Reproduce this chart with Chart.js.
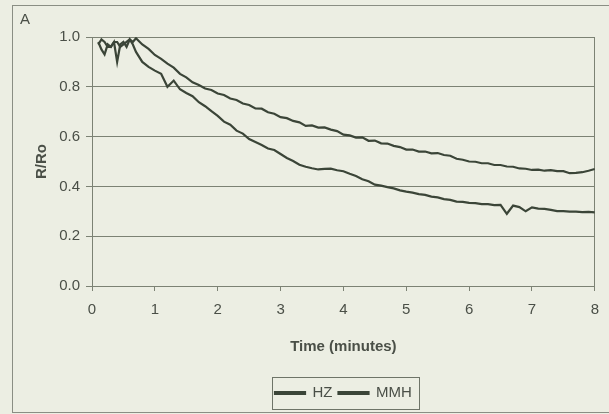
<!DOCTYPE html>
<html>
<head>
<meta charset="utf-8">
<script src="https://cdn.jsdelivr.net/npm/chart.js@4.4.1/dist/chart.umd.min.js"></script>
<style>
  html, body { margin: 0; padding: 0; background: #eceee3; overflow: hidden; }
  #wrap { position: relative; width: 609px; height: 414px; }
  #frame { position: absolute; left: 12px; top: 5px; width: 700px; height: 406px; border: 1px solid #8a8e84; }
  #myChart { position: absolute; left: 0; top: 0; }
</style>
</head>
<body>
<div id="wrap">
  <div id="frame"></div>
  <canvas id="myChart" width="609" height="414"></canvas>
</div>
<script>
// temps en minutes
const times = [0.1, 0.15, 0.2, 0.25, 0.3, 0.35, 0.4, 0.45, 0.5, 0.55, 0.6, 0.65, 0.7, 0.8, 0.9, 1.0,
  1.1, 1.2, 1.3, 1.4, 1.5, 1.6, 1.7, 1.8, 1.9, 2.0,
  2.1, 2.2, 2.3, 2.4, 2.5, 2.6, 2.7, 2.8, 2.9, 3.0,
  3.1, 3.2, 3.3, 3.4, 3.5, 3.6, 3.7, 3.8, 3.9, 4.0,
  4.1, 4.2, 4.3, 4.4, 4.5, 4.6, 4.7, 4.8, 4.9, 5.0,
  5.1, 5.2, 5.3, 5.4, 5.5, 5.6, 5.7, 5.8, 5.9, 6.0,
  6.1, 6.2, 6.3, 6.4, 6.5, 6.6, 6.7, 6.8, 6.9, 7.0,
  7.1, 7.2, 7.3, 7.4, 7.5, 7.6, 7.7, 7.8, 7.9, 8.0];

// courbe basse
const hzValues = [0.98, 0.95, 0.93, 0.97, 0.96, 0.98, 0.90, 0.97, 0.98, 0.96, 0.99, 0.97, 0.94, 0.90, 0.88, 0.865,
  0.852, 0.80, 0.825, 0.79, 0.775, 0.762, 0.738, 0.722, 0.702, 0.683,
  0.66, 0.648, 0.624, 0.612, 0.59, 0.578, 0.566, 0.552, 0.546, 0.53,
  0.514, 0.502, 0.487, 0.479, 0.473, 0.468, 0.47, 0.471, 0.465, 0.461,
  0.451, 0.442, 0.429, 0.421, 0.407, 0.403, 0.397, 0.392, 0.384, 0.379,
  0.375, 0.369, 0.366, 0.359, 0.356, 0.349, 0.346, 0.339, 0.338, 0.334,
  0.333, 0.329, 0.329, 0.325, 0.326, 0.29, 0.323, 0.317, 0.30, 0.316,
  0.311, 0.31, 0.306, 0.301, 0.301, 0.299, 0.299, 0.297, 0.298, 0.296];

// courbe haute
const mmhValues = [0.97, 0.99, 0.98, 0.96, 0.96, 0.98, 0.98, 0.96, 0.97, 0.98, 0.99, 0.98, 0.995, 0.97, 0.952, 0.928,
  0.912, 0.893, 0.877, 0.852, 0.838, 0.818, 0.807, 0.793, 0.787, 0.773,
  0.767, 0.753, 0.747, 0.733, 0.727, 0.713, 0.712, 0.698, 0.692, 0.678,
  0.674, 0.663, 0.657, 0.643, 0.645, 0.636, 0.637, 0.628, 0.622, 0.608,
  0.605, 0.596, 0.597, 0.583, 0.584, 0.573, 0.572, 0.563, 0.558, 0.548,
  0.548, 0.54, 0.54, 0.533, 0.534, 0.526, 0.523, 0.511, 0.507, 0.5,
  0.499, 0.493, 0.493, 0.486, 0.486, 0.48, 0.479, 0.472, 0.471, 0.466,
  0.467, 0.463, 0.465, 0.461, 0.461, 0.453, 0.454, 0.457, 0.463, 0.47];

const seriesLabels = ['HZ', 'MMH'];
const xTicks = [0, 1, 2, 3, 4, 5, 6, 7, 8];
const yTicks = [0.0, 0.2, 0.4, 0.6, 0.8, 1.0];

const lineColor = '#3b4538';
const gridColor = '#7c8274';
const textColor = '#4a4f47';
const fontFamily = '"Liberation Sans", Arial, sans-serif';

function toPoints(values) {
    return values.map((v, i) => ({x: times[i], y: v}));
}

// cadre autour de la légende
const legendFrame = {
    id: 'legendFrame',
    afterDraw(chart) {
        const boxes = chart.legend.legendHitBoxes;
        if (!boxes || !boxes.length) return;
        const first = boxes[0];
        const last = boxes[boxes.length - 1];
        const ctx = chart.ctx;
        const x = first.left - 3;
        const y = first.top + first.height / 2 - 16;
        const w = last.left + last.width - first.left + 10;
        ctx.save();
        ctx.strokeStyle = '#6e7468';
        ctx.lineWidth = 1;
        ctx.strokeRect(Math.round(x) + 0.5, Math.round(y) + 0.5, Math.round(w), 32);
        ctx.restore();
    }
};

const chart = new Chart(
    document.getElementById('myChart'),
    {
        type: 'line',
        data: {
            datasets: [
                {
                    label: seriesLabels[0],
                    data: toPoints(hzValues),
                    borderColor: lineColor,
                    backgroundColor: lineColor,
                    borderWidth: 2.2
                },
                {
                    label: seriesLabels[1],
                    data: toPoints(mmhValues),
                    borderColor: lineColor,
                    backgroundColor: lineColor,
                    borderWidth: 2.2
                }
            ]
        },
        options: {
            responsive: false,
            animation: false,
            devicePixelRatio: 1,
            layout: {
                padding: {left: 20, right: 7, top: 0, bottom: 3.5}
            },
            elements: {
                point: { pointStyle: false, radius: 0 },
                line: { tension: 0 }
            },
            plugins: {
                title: {
                    display: true,
                    text: 'A',
                    align: 'start',
                    color: textColor,
                    font: { size: 15, family: fontFamily, weight: 'normal' },
                    padding: { top: 11, bottom: 8 }
                },
                legend: {
                    position: 'bottom',
                    fullSize: false,
                    labels: {
                        boxWidth: 30,
                        boxHeight: 2,
                        padding: 6,
                        color: textColor,
                        font: { size: 15, family: fontFamily }
                    }
                },
                tooltip: { enabled: false }
            },
            scales: {
                x: {
                    type: 'linear',
                    min: 0,
                    max: 8,
                    afterBuildTicks: (axis) => { axis.ticks = xTicks.map(v => ({value: v})); },
                    afterFit: (axis) => { axis.height = 93.5; },
                    grid: {
                        color: (ctx) => (ctx.tick && ctx.tick.value === 8) ? gridColor : 'rgba(0,0,0,0)',
                        tickColor: gridColor,
                        tickLength: 5,
                        drawOnChartArea: true
                    },
                    border: { color: gridColor, width: 1 },
                    ticks: {
                        color: textColor,
                        padding: 10,
                        maxRotation: 0,
                        font: { size: 15, family: fontFamily }
                    },
                    title: {
                        display: true,
                        text: 'Time (minutes)',
                        color: textColor,
                        font: { size: 15, family: fontFamily, weight: 'bold' },
                        padding: { top: 4, bottom: 23.5 }
                    }
                },
                y: {
                    min: 0,
                    max: 1,
                    afterBuildTicks: (axis) => { axis.ticks = yTicks.map(v => ({value: v})); },
                    afterFit: (axis) => { axis.width = 72; },
                    grid: {
                        color: gridColor,
                        tickColor: gridColor,
                        tickLength: 6
                    },
                    border: { color: gridColor, width: 1 },
                    ticks: {
                        color: textColor,
                        padding: 6,
                        font: { size: 15, family: fontFamily },
                        callback: (v) => Number(v).toFixed(1)
                    },
                    title: {
                        display: true,
                        text: 'R/Ro',
                        color: textColor,
                        font: { size: 15, family: fontFamily, weight: 'bold' },
                        padding: { top: 13, bottom: 0 }
                    }
                }
            }
        },
        plugins: [legendFrame]
    }
);
</script>
</body>
</html>
